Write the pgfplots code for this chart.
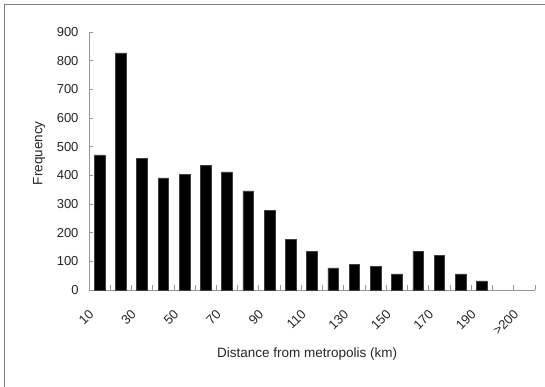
\documentclass[border=0pt]{standalone}
\usepackage{fontspec}
\setmainfont{Liberation Sans}
\usepackage{pgfplots}
\pgfplotsset{compat=1.18}

\definecolor{axisgray}{RGB}{150,150,150}
\definecolor{framegray}{RGB}{128,128,128}

% Frequency of distances, 10 km classes (index 0 = 10 km ... 20 = >200 km)
\pgfplotstableread{
idx  freq
0    471
1    827
2    459
3    391
4    404
5    436
6    412
7    346
8    277
9    176
10   134
11   77
12   88
13   82
14   56
15   134
16   120
17   56
18   32
}\freqdata

\begin{document}
\begin{tikzpicture}
\begin{axis}[
  at={(89bp,97bp)}, anchor=south west,
  scale only axis, width=446bp, height=258bp,
  xmin=-0.5, xmax=20.5, ymin=0, ymax=900,
  axis lines=left,
  axis line style={-, draw=axisgray, line width=0.9bp},
  tick align=inside,
  xtick={0,2,...,20},
  xticklabels={10,30,50,70,90,110,130,150,170,190,{>200}},
  minor xtick={-0.5,0.5,...,20.5},
  major x tick style={draw=none},
  minor x tick style={draw=axisgray, line width=0.9bp},
  minor tick length=5bp,
  ytick={0,100,...,900},
  major y tick style={draw=axisgray, line width=0.9bp},
  major tick length=4bp,
  /pgf/number format/assume math mode=true,
  ticklabel style={font=\fontsize{13bp}{15bp}\selectfont, text=black!85},
  yticklabel style={xshift=-7bp},
  xticklabel style={rotate=45, anchor=north east, xshift=-18bp, yshift=-1.5bp},
  xlabel={Distance from metropolis (km)},
  ylabel={Frequency},
  label style={font=\fontsize{13.5bp}{16bp}\selectfont, text=black!85},
  xlabel style={at={(axis description cs:0.489,-0.248)}, anchor=center},
  ylabel style={at={(axis description cs:-0.112,0.53)}, anchor=center},
  clip=false,
]
\addplot[ybar, bar width=10.6bp, bar shift=0bp, fill=black, draw=black!75, line width=0.6bp]
  table[x=idx, y=freq] {\freqdata};
\end{axis}
% outer chart frame (top and left edges)
\draw[framegray, line width=1.5bp] (4.5bp,0) -- (4.5bp,382.5bp) -- (545bp,382.5bp);
\pgfresetboundingbox
\path[use as bounding box] (0,0) rectangle (545bp,387bp);
\end{tikzpicture}
\end{document}
